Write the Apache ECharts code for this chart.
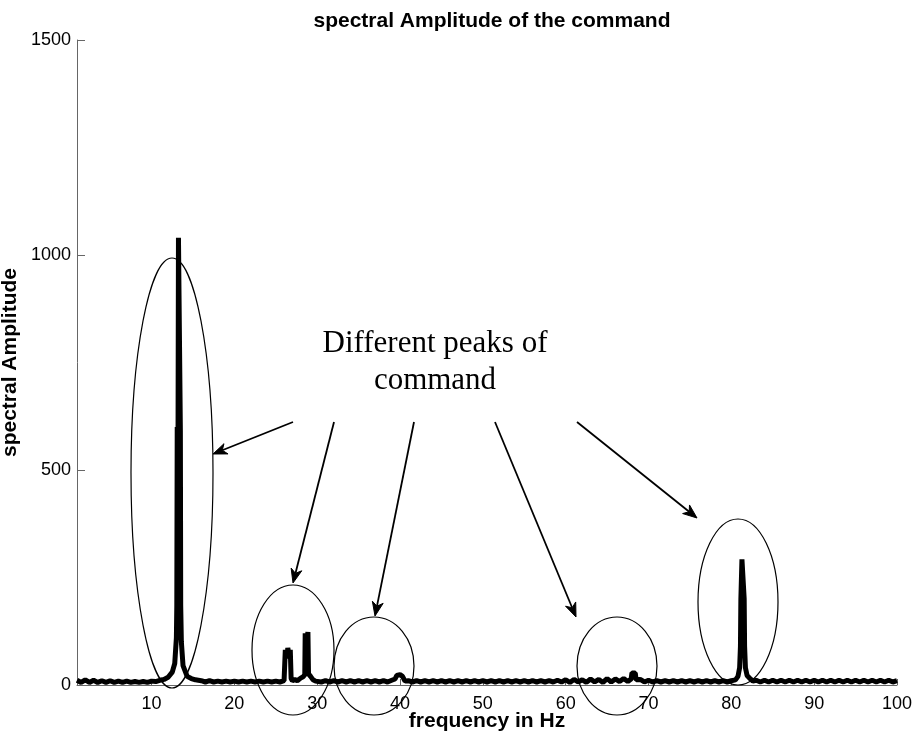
<!DOCTYPE html>
<html>
<head>
<meta charset="utf-8">
<script src="https://cdn.jsdelivr.net/npm/echarts@6/dist/echarts.min.js"></script>
<style>
html,body{margin:0;padding:0;background:#fff;}
#chart{width:913px;height:742px;}
</style>
</head>
<body>
<div id="chart"></div>
<script>
// ---- data ----
const freq = [
  1.0,1.5,2.0,2.5,3.0,3.5,4.0,4.5,5.0,5.5,6.0,6.5,7.0,7.5,8.0,8.5,9.0,9.5,10.0,10.5,11.0,11.5,
  12.0,12.5,12.8,13.0,13.05,13.1,13.2,13.25,13.42,13.48,13.52,13.6,13.8,14.3,14.8,15.3,
  15.5,16,16.5,17,17.5,18,18.5,19,19.5,20,20.5,21,21.5,22,22.5,23,23.5,24,24.5,25,25.5,26,
  26.1,26.15,26.35,26.45,26.6,26.75,26.85,27.0,27.3,27.6,28.0,28.3,28.5,28.55,28.72,28.88,28.95,29.2,29.5,29.8,
  30,30.5,31,31.5,32,32.5,33,33.5,34,34.5,35,35.5,36,36.5,37,37.5,38,38.5,39,39.4,39.6,40.0,40.3,40.6,41,41.5,42,42.5,
  43,43.5,44,44.5,45,45.5,46,46.5,47,47.5,48,48.5,49,49.5,50,50.5,51,51.5,52,52.5,53,53.5,54,54.5,55,55.5,56,56.5,57,57.5,58,58.5,59,59.5,
  60,60.5,61,61.5,62,62.5,63,63.5,64,64.5,65,65.5,66,66.5,67,67.5,67.9,68.0,68.4,68.5,69,69.5,
  70,70.5,71,71.5,72,72.5,73,73.5,74,74.5,75,75.5,76,76.5,77,77.5,78,78.5,79,79.5,80,80.5,
  80.8,81.0,81.1,81.15,81.22,81.28,81.48,81.55,81.6,81.7,81.9,82.3,82.6,
  83,83.5,84,84.5,85,85.5,86,86.5,87,87.5,88,88.5,89,89.5,90,90.5,91,91.5,92,92.5,93,93.5,94,94.5,95,95.5,96,96.5,97,97.5,98,98.5,99,99.5,100
];
const amp = [
  11,6,12,6,11,6,10,6,10,6,9,6,9,6,8,6,8,6,9,8,11,13,
  18,30,50,110,185,600,595,1040,1040,590,185,100,45,20,15,12,
  8,10,7,10,7,9,7,9,7,9,7,9,7,9,7,9,7,9,7,9,7,10,
  14,82,62,86,70,82,15,10,13,10,16,19,24,120,100,123,26,20,12,9,
  10,7,10,7,10,7,10,7,10,7,10,7,10,7,10,7,10,7,11,14,22,24,20,9,10,7,10,7,
  10,7,10,7,10,7,10,7,10,7,10,7,10,7,10,7,10,7,10,7,10,7,10,7,10,7,10,7,10,7,10,7,11,7,
  12,6,13,7,12,6,14,7,13,6,15,7,14,8,15,8,14,28,28,12,13,7,
  11,7,10,7,10,7,10,7,10,7,10,7,10,7,10,7,10,7,10,7,10,12,
  20,40,90,200,200,292,295,200,90,40,22,14,9,
  11,7,11,7,11,7,11,7,11,7,11,7,11,7,11,7,11,7,11,7,11,7,11,7,11,7,11,7,11,7,11,7,11,7,10
];
const xTickValues = [10,20,30,40,50,60,70,80,90,100];
const titleText = 'spectral Amplitude of the command';
const xName = 'frequency in Hz';
const yName = 'spectral Amplitude';
const noteText = 'Different peaks of\ncommand';

// ---- annotation geometry (pixels) ----
const ellipses = [
  {cx:172, cy:473, rx:41, ry:215},
  {cx:293, cy:650, rx:41, ry:65},
  {cx:374, cy:666, rx:40, ry:49},
  {cx:617, cy:666, rx:40, ry:49},
  {cx:738, cy:602, rx:40, ry:83}
];
const arrows = [
  [293,422,213,454],
  [334,422,293,583],
  [414,422,375,616],
  [495,422,576,617],
  [577,422,697,518]
];

const seriesData = freq.map((f,i)=>[f, amp[i]]);
const sans = '"Liberation Sans", Arial, sans-serif';

const graphics = [];
ellipses.forEach(e=>{
  graphics.push({type:'ellipse', shape:{cx:e.cx, cy:e.cy, rx:e.rx, ry:e.ry},
    style:{fill:null, stroke:'#000', lineWidth:1.2}, z:100, silent:true});
});
arrows.forEach(a=>{
  const [x1,y1,x2,y2] = a;
  const dx = x2-x1, dy = y2-y1, len = Math.hypot(dx,dy);
  const ux = dx/len, uy = dy/len, px = -uy, py = ux;
  const L = 14, W = 5.5, N = 10;
  const bx = x2-ux*L, by = y2-uy*L;
  const nx = x2-ux*N, ny = y2-uy*N;
  graphics.push({type:'line', shape:{x1:x1,y1:y1,x2:nx,y2:ny},
    style:{stroke:'#000', lineWidth:1.8}, z:100, silent:true});
  graphics.push({type:'polygon', shape:{points:[[x2,y2],[bx+px*W,by+py*W],[nx,ny],[bx-px*W,by-py*W]]},
    style:{fill:'#000', stroke:'#000', lineWidth:1}, z:100, silent:true});
});
graphics.push({type:'text', x:435, y:362, z:100, silent:true,
  style:{text:noteText, font:'31px "Liberation Serif", "Times New Roman", serif',
    fill:'#000', textAlign:'center', textVerticalAlign:'middle', lineHeight:37}});

const chart = echarts.init(document.getElementById('chart'), null, {renderer:'canvas'});
chart.setOption({
  animation:false,
  backgroundColor:'#fff',
  title:{text:titleText, left:487, top:6, textAlign:'center',
    textStyle:{fontFamily:sans, fontSize:21, fontWeight:'bold', color:'#000'}},
  grid:{left:77, right:16, top:40, bottom:57, containLabel:false, outerBoundsMode:'none'},
  xAxis:{type:'value', min:1, max:100,
    name:xName, nameLocation:'middle', nameGap:26, nameMoveOverlap:false,
    nameTextStyle:{fontFamily:sans, fontSize:21, fontWeight:'bold', color:'#000'},
    axisLine:{show:true, onZero:false, lineStyle:{color:'#666', width:1}},
    axisTick:{show:true, inside:true, length:6, customValues:xTickValues, lineStyle:{color:'#666'}},
    axisLabel:{customValues:xTickValues, fontFamily:sans, fontSize:18, color:'#000', margin:10,
      formatter:v=>String(v)},
    splitLine:{show:false}},
  yAxis:{type:'value', min:0, max:1500, interval:500,
    name:yName, nameLocation:'middle', nameGap:56, nameRotate:90, nameMoveOverlap:false,
    nameTextStyle:{fontFamily:sans, fontSize:21, fontWeight:'bold', color:'#000'},
    axisLine:{show:true, lineStyle:{color:'#666', width:1}},
    axisTick:{show:true, inside:true, length:8, lineStyle:{color:'#666'}},
    axisLabel:{fontFamily:sans, fontSize:18, color:'#000', margin:6, formatter:v=>String(v)},
    splitLine:{show:false}},
  series:[{type:'line', data:seriesData, showSymbol:false, symbol:'none', sampling:null,
    lineStyle:{color:'#000', width:5, join:'bevel'}, z:3}],
  graphic:graphics
});
</script>
</body>
</html>
